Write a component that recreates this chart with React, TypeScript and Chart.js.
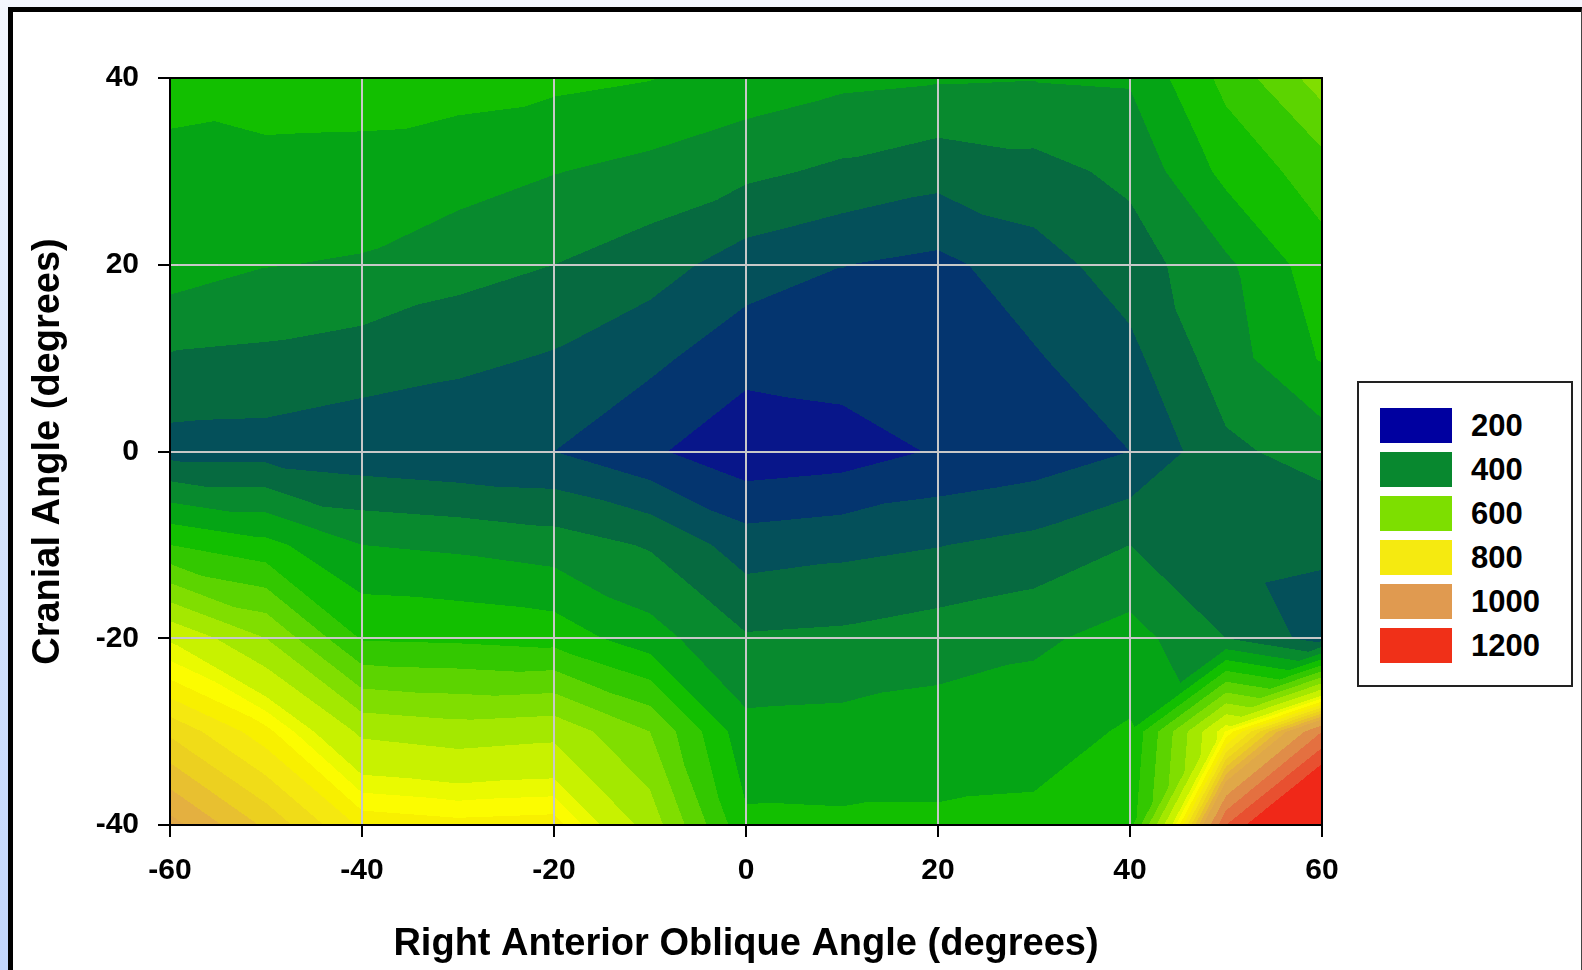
import React, { useEffect, useRef } from "react";
import { Chart, registerables } from "chart.js";

Chart.register(...registerables);

// ---- Data (dose values on a regular angle grid) ----
const xAngles = [-60, -50, -40, -30, -20, -10, 0, 10, 20, 30, 40, 50, 60];
const yAngles = [-40, -30, -20, -10, 0, 10, 20, 30, 40];

const doseAtM40 = [1010, 945, 870, 860, 865, 730, 510, 508, 508, 510, 530, 1150, 1390];
const doseAtM30 = [920, 860, 740, 725, 735, 650, 465, 468, 475, 482, 505, 830, 1100];
const doseAtM20 = [795, 700, 545, 540, 530, 470, 405, 410, 425, 440, 470, 400, 328];
const doseAtM10 = [550, 515, 450, 440, 425, 395, 325, 336, 348, 365, 400, 365, 358];
const doseAt0 = [330, 328, 315, 305, 300, 258, 215, 225, 255, 270, 300, 390, 420];
const doseAt10 = [395, 389, 376, 363, 345, 312, 268, 275, 265, 295, 336, 428, 505];
const doseAt20 = [476, 452, 445, 418, 400, 373, 325, 301, 287, 328, 375, 440, 530];
const doseAt30 = [490, 486, 485, 473, 452, 435, 412, 390, 369, 383, 412, 515, 575];
const doseAt40 = [512, 522, 520, 518, 512, 502, 480, 462, 455, 452, 455, 565, 675];

const doseRows = [doseAtM40, doseAtM30, doseAtM20, doseAtM10, doseAt0, doseAt10, doseAt20, doseAt30, doseAt40];

const contourLevels = [250, 300, 350, 400, 450, 500, 550, 600, 650, 700, 750, 800, 825, 850, 875, 900, 925, 950, 975, 1000, 1050, 1100, 1150, 1200];
const contourColors = [
  "#08168a", "#04356f", "#04505a", "#066a40", "#088a2e", "#05a515", "#12bf00", "#33c800",
  "#5cd400", "#80de00", "#a4e800", "#c8f200", "#eafa00", "#fcfc00", "#f8f000", "#f5e810",
  "#f0dc18", "#ecd020", "#e8c030", "#e4b040", "#e0a848", "#e08c48", "#e47040", "#e85030", "#f02818",
];

const legendLabels = ["200", "400", "600", "800", "1000", "1200"];
const legendColors = ["#0000a0", "#08882f", "#7ddf00", "#f5ea10", "#e09a50", "#f03018"];

const xTitle = "Right Anterior Oblique Angle (degrees)";
const yTitle = "Cranial Angle (degrees)";

const FONT = "'Liberation Sans', Arial, Helvetica, sans-serif";

function hexToRgb(h: string) {
  const n = parseInt(h.slice(1), 16);
  return [(n >> 16) & 255, (n >> 8) & 255, n & 255];
}

function sampleDose(xv: number, yv: number) {
  const nx = xAngles.length;
  const ny = yAngles.length;
  let fx = (xv - xAngles[0]) / (xAngles[1] - xAngles[0]);
  let fy = (yv - yAngles[0]) / (yAngles[1] - yAngles[0]);
  fx = Math.min(Math.max(fx, 0), nx - 1 - 1e-9);
  fy = Math.min(Math.max(fy, 0), ny - 1 - 1e-9);
  const i = Math.floor(fx);
  const j = Math.floor(fy);
  const u = fx - i;
  const v = fy - j;
  const z00 = doseRows[j][i];
  const z10 = doseRows[j][i + 1];
  const z01 = doseRows[j + 1][i];
  const z11 = doseRows[j + 1][i + 1];
  if (Math.abs(z00 - z11) <= Math.abs(z10 - z01)) {
    if (u >= v) return z00 + u * (z10 - z00) + v * (z11 - z10);
    return z00 + v * (z01 - z00) + u * (z11 - z01);
  }
  if (u + v <= 1) return z00 + u * (z10 - z00) + v * (z01 - z00);
  return z11 + (1 - u) * (z01 - z11) + (1 - v) * (z10 - z11);
}

function bandOf(z: number) {
  let b = 0;
  while (b < contourLevels.length && z >= contourLevels[b]) b++;
  return b;
}

const contourPlugin = {
  id: "contourFill",
  beforeDraw(chart: any) {
    const { ctx, chartArea, scales } = chart;
    const xs = scales.x;
    const ys = scales.y;
    const left = Math.round(chartArea.left);
    const top = Math.round(chartArea.top);
    const w = Math.round(chartArea.right) - left;
    const h = Math.round(chartArea.bottom) - top;
    const img = ctx.createImageData(w, h);
    const rgb = contourColors.map(hexToRgb);
    const xvals: number[] = [];
    for (let px = 0; px < w; px++) xvals.push(xs.getValueForPixel(left + px + 0.5));
    let k = 0;
    for (let py = 0; py < h; py++) {
      const yv = ys.getValueForPixel(top + py + 0.5);
      for (let px = 0; px < w; px++) {
        const c = rgb[bandOf(sampleDose(xvals[px], yv))];
        img.data[k++] = c[0];
        img.data[k++] = c[1];
        img.data[k++] = c[2];
        img.data[k++] = 255;
      }
    }
    ctx.putImageData(img, left, top);
  },
};

const framePlugin = {
  id: "plotFrame",
  afterDraw(chart: any) {
    const { ctx, chartArea } = chart;
    ctx.save();
    ctx.strokeStyle = "#000";
    ctx.lineWidth = 2;
    ctx.strokeRect(chartArea.left, chartArea.top, chartArea.right - chartArea.left, chartArea.bottom - chartArea.top);
    ctx.restore();
  },
};

export default function App() {
  const canvasRef = useRef<HTMLCanvasElement | null>(null);

  useEffect(() => {
    const canvas = canvasRef.current;
    if (!canvas) return;
    const points: { x: number; y: number }[] = [];
    yAngles.forEach((y) => xAngles.forEach((x) => points.push({ x, y })));
    const tickFont = { family: FONT, size: 30, weight: "bold" as const };
    const titleFont = { family: FONT, size: 38, weight: "bold" as const };
    const chart = new Chart(canvas, {
      type: "scatter",
      data: { datasets: [{ data: points, pointRadius: 0, pointHoverRadius: 0 }] },
      options: {
        animation: false,
        responsive: false,
        devicePixelRatio: 1,
        events: [],
        layout: { padding: { left: 0, top: 78, right: 260, bottom: 0 } },
        plugins: { legend: { display: false }, tooltip: { enabled: false } },
        scales: {
          x: {
            type: "linear",
            min: -60,
            max: 60,
            ticks: { stepSize: 20, color: "#000", font: tickFont, padding: 16, maxRotation: 0 },
            grid: {
              color: (c: any) => (c.tick && (c.tick.value === -60 || c.tick.value === 60) ? "rgba(0,0,0,0)" : "#c8c8c8"),
              lineWidth: 2,
              tickColor: "#000",
              tickLength: 12,
              tickWidth: 2,
            },
            border: { display: true, color: "#000", width: 2 },
            title: { display: true, text: xTitle, color: "#000", font: titleFont, padding: { top: 0, bottom: 3 } },
            afterFit: (s: any) => {
              s.height = 145;
            },
          },
          y: {
            type: "linear",
            min: -40,
            max: 40,
            ticks: { stepSize: 20, color: "#000", font: tickFont, padding: 19 },
            grid: {
              color: (c: any) => (c.tick && (c.tick.value === -40 || c.tick.value === 40) ? "rgba(0,0,0,0)" : "#c8c8c8"),
              lineWidth: 2,
              tickColor: "#000",
              tickLength: 12,
              tickWidth: 2,
            },
            border: { display: true, color: "#000", width: 2 },
            title: { display: true, text: yTitle, color: "#000", font: titleFont, padding: { top: 26, bottom: 0 } },
            afterFit: (s: any) => {
              s.width = 170;
            },
          },
        },
      } as any,
      plugins: [contourPlugin, framePlugin],
    });
    return () => chart.destroy();
  }, []);

  return (
    <div
      style={{
        position: "fixed",
        left: 0,
        top: 0,
        width: 1582,
        height: 970,
        overflow: "hidden",
        background: "linear-gradient(to bottom, #f4f7fe 0%, #dce8fd 40%, #c2d6fc 100%)",
      }}
    >
      <div
        style={{
          position: "absolute",
          left: 8,
          top: 7,
          width: 1574,
          height: 980,
          boxSizing: "border-box",
          background: "#fff",
          borderLeft: "5px solid #000",
          borderTop: "5px solid #000",
          borderRight: "1px solid #444",
        }}
      />
      <canvas ref={canvasRef} width={1582} height={970} style={{ position: "absolute", left: 0, top: 0 }} />
      <div
        style={{
          position: "absolute",
          left: 1357,
          top: 381,
          width: 216,
          height: 306,
          boxSizing: "border-box",
          border: "2px solid #222",
          background: "#fff",
        }}
      />
      {legendLabels.map((lab, i) => (
        <React.Fragment key={lab}>
          <div
            style={{
              position: "absolute",
              left: 1380,
              top: 408 + 44 * i,
              width: 72,
              height: 35,
              background: legendColors[i],
            }}
          />
          <div
            style={{
              position: "absolute",
              left: 1471,
              top: 408 + 44 * i,
              height: 35,
              lineHeight: "35px",
              fontFamily: FONT,
              fontWeight: "bold",
              fontSize: 31,
              color: "#000",
            }}
          >
            {lab}
          </div>
        </React.Fragment>
      ))}
    </div>
  );
}
